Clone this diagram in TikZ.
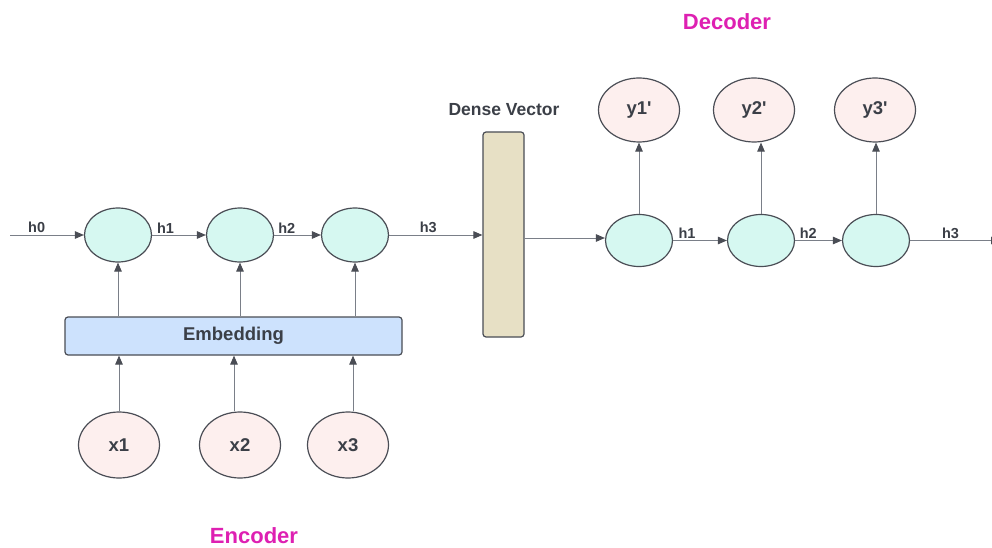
\documentclass[tikz,border=0pt]{standalone}
\usepackage{fontspec}
\setmainfont{Liberation Sans}
\usetikzlibrary{arrows.meta,shapes.geometric,calc}

\definecolor{inkgray}{HTML}{3B3F47}
\definecolor{edgegray}{HTML}{4A4D55}
\definecolor{linegray}{HTML}{7A7F88}
\definecolor{hidfill}{HTML}{D6F8F1}
\definecolor{iofill}{HTML}{FDEFEE}
\definecolor{embfill}{HTML}{CDE2FD}
\definecolor{densefill}{HTML}{E7E0C5}
\definecolor{titlemag}{RGB}{222,32,178}

\tikzset{
  hidden/.style={ellipse, draw=edgegray, line width=1.2pt, fill=hidfill,
    minimum width=67pt, minimum height=54pt, inner sep=0pt},
  iobubble/.style={ellipse, draw=edgegray, line width=1.2pt, fill=iofill,
    minimum width=81pt, minimum height=66pt, inner sep=0pt,
    font=\fontsize{18.5}{20}\selectfont\bfseries, text=inkgray},
  arr/.style={draw=linegray, line width=0.9pt,
    -{Triangle[length=9pt,width=7.5pt,color=edgegray,fill=edgegray]}},
  hlabel/.style={above, inner sep=1.5pt, text=inkgray,
    font=\fontsize{14.5}{16}\selectfont\bfseries},
  title/.style={text=titlemag, font=\fontsize{22}{24}\selectfont\bfseries}
}

\begin{document}
\begin{tikzpicture}[x=1pt,y=-1pt]
\clip (0,0) rectangle (992,548);
\fill[white] (0,0) rectangle (992,548);

% encoder recurrent cells
\node[hidden] (e1) at (118,235) {};
\node[hidden] (e2) at (240,235) {};
\node[hidden] (e3) at (355,235) {};

% embedding layer
\node[draw=edgegray, line width=1.2pt, fill=embfill, rounded corners=3pt,
  minimum width=337pt, minimum height=38pt, inner sep=0pt,
  text=inkgray, font=\fontsize{18.5}{20}\selectfont\bfseries]
  (emb) at (233.5,336) {Embedding};

% encoder inputs
\node[iobubble] (x1) at (119,445) {x1};
\node[iobubble] (x2) at (240,445) {x2};
\node[iobubble] (x3) at (348,445) {x3};

% dense context vector
\node[draw=edgegray, line width=1.2pt, fill=densefill, rounded corners=3pt,
  minimum width=41pt, minimum height=205pt, inner sep=0pt]
  (dense) at (503.5,234.5) {};
\node[text=inkgray, font=\fontsize{17.5}{19}\selectfont\bfseries]
  (densetxt) at (504,110) {Dense Vector};

% decoder recurrent cells
\node[hidden, minimum height=52pt] (d1) at (639,240.5) {};
\node[hidden, minimum height=52pt] (d2) at (761,240.5) {};
\node[hidden, minimum height=52pt] (d3) at (876,240.5) {};

% decoder outputs
\node[iobubble, minimum height=64pt] (y1) at (639,110) {y1\textquotesingle};
\node[iobubble, minimum height=64pt] (y2) at (754,110) {y2\textquotesingle};
\node[iobubble, minimum height=64pt] (y3) at (875,110) {y3\textquotesingle};

% titles
\node[title] (enctitle) at (254,536) {Encoder};
\node[title] (dectitle) at (727,22) {Decoder};

% hidden-state chain, encoder
\coordinate (h0start) at (10,235);
\draw[arr] (h0start) -- node[hlabel, pos=0.36] {h0} (e1.west);
\draw[arr] (e1.east) -- node[hlabel, pos=0.25] {h1} (e2.west);
\draw[arr] (e2.east) -- node[hlabel, pos=0.27] {h2} (e3.west);
\draw[arr] (e3.east) -- node[hlabel, pos=0.42] {h3} (e3.east -| dense.west);

% embedding to cells
\draw[arr] (emb.north -| e1) -- (e1.south);
\draw[arr] (emb.north -| e2) -- (e2.south);
\draw[arr] (emb.north -| e3) -- (e3.south);

% inputs to embedding
\draw[arr] (x1.north) -- (x1.north |- emb.south);
\draw[arr] ([xshift=-6pt]x2.north) -- ([xshift=-6pt]x2.north |- emb.south);
\draw[arr] ([xshift=5pt]x3.north) -- ([xshift=5pt]x3.north |- emb.south);

% dense vector into decoder
\coordinate (din) at ([yshift=2.5pt]d1.west);
\draw[arr] (dense.east |- din) -- (din);

% hidden-state chain, decoder
\coordinate (hend) at (1000,240.5);
\draw[arr] (d1.east) -- node[hlabel, pos=0.26] {h1} (d2.west);
\draw[arr] (d2.east) -- node[hlabel, pos=0.28] {h2} (d3.west);
\draw[arr] (d3.east) -- node[hlabel, pos=0.45] {h3} (hend);

% cells to outputs
\draw[arr] (d1.north) -- (y1.south -| d1);
\draw[arr] (d2.north) -- (y2.south -| d2);
\draw[arr] (d3.north) -- (y3.south -| d3);
\end{tikzpicture}
\end{document}
